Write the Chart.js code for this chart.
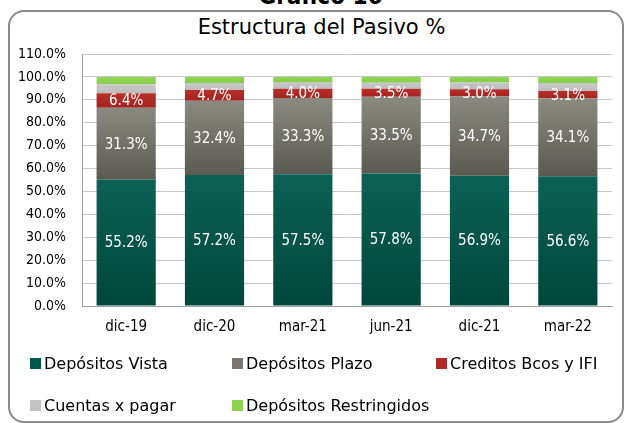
<!DOCTYPE html>
<html><head><meta charset="utf-8">
<script src="https://cdn.jsdelivr.net/npm/chart.js@4"></script>
<style>
html,body{margin:0;padding:0;width:625px;height:423px;overflow:hidden;background:#fff;}
body{position:relative;font-family:"DejaVu Sans Condensed","DejaVu Sans",sans-serif;}
#frame{position:absolute;left:8px;top:10px;width:612px;height:409px;border:2px solid #8a8a8a;border-radius:16px;}
#sup{position:absolute;left:0;width:625px;top:-16px;text-align:center;font-size:24px;font-weight:bold;line-height:24px;color:#000;padding-left:16px;box-sizing:border-box;}
#title{position:absolute;left:0;width:625px;top:15px;text-align:center;font-family:"DejaVu Sans",sans-serif;font-size:21px;line-height:24px;color:#000;padding-left:18px;box-sizing:border-box;}
#c{position:absolute;left:0;top:0;}
.lg{position:absolute;font-family:"DejaVu Sans",sans-serif;font-size:16px;line-height:18px;color:#000;white-space:nowrap;}
.lg i{display:inline-block;width:11px;height:11px;margin-right:3px;vertical-align:0px;}
</style></head>
<body>
<div id="frame"></div>
<div id="sup">Gráfico 16</div>
<div id="title">Estructura del Pasivo %</div>
<canvas id="c" width="625" height="423"></canvas>
<div id="legend"></div>
<script>
const categories = ["dic-19","dic-20","mar-21","jun-21","dic-21","mar-22"];
const depositosVista = [55.2,57.2,57.5,57.8,56.9,56.6];
const depositosPlazo = [31.3,32.4,33.3,33.5,34.7,34.1];
const creditosBcos = [6.4,4.7,4.0,3.5,3.0,3.1];
const cuentasPagar = [3.9,3.0,3.0,2.6,3.0,3.5];
const depositosRestr = [3.2,2.7,2.2,2.6,2.4,2.7];
const yTicks = [0,10,20,30,40,50,60,70,80,90,100,110];

const seriesNames = ["Depósitos Vista","Depósitos Plazo","Creditos Bcos y IFI","Cuentas x pagar","Depósitos Restringidos"];
const seriesData = [depositosVista,depositosPlazo,creditosBcos,cuentasPagar,depositosRestr];
const baseColors = ["#00584b","#76766e","#b02a25","#c2c2c2","#8fd24f"];
const gradStops = [["#0c6154","#00473b"],["#8a8a80","#5a5a52"],["#b8302a","#a5231f"],["#c8c8c8","#bcbcbc"],["#94d654","#88cc48"]];
const labeled = [true,true,true,false,false];

function bg(di){
  return function(ctx){
    if(ctx.type!=='data') return baseColors[di];
    const chart=ctx.chart, ys=chart.scales.y;
    if(!ys || !chart.chartArea) return baseColors[di];
    let start=0;
    for(let k=0;k<di;k++) start+=seriesData[k][ctx.dataIndex];
    const end=start+seriesData[di][ctx.dataIndex];
    const yTop=ys.getPixelForValue(end), yBot=ys.getPixelForValue(start);
    if(!isFinite(yTop)||!isFinite(yBot)||yTop===yBot) return baseColors[di];
    const g=chart.ctx.createLinearGradient(0,yTop,0,yBot);
    g.addColorStop(0,gradStops[di][0]);g.addColorStop(1,gradStops[di][1]);
    return g;
  };
}

const datasets = seriesNames.map((n,i)=>({
  label:n, data:seriesData[i], backgroundColor:bg(i), borderWidth:0,
  categoryPercentage:1, barPercentage:0.67
}));

const labelPlugin={
  id:'lbl',
  afterDatasetsDraw(chart){
    const c=chart.ctx;
    c.save();
    c.fillStyle='#ffffff';
    c.font='15px "DejaVu Sans Condensed","DejaVu Sans",sans-serif';
    c.textAlign='center';c.textBaseline='middle';
    chart.data.datasets.forEach((ds,di)=>{
      if(!labeled[di]) return;
      chart.getDatasetMeta(di).data.forEach((el,j)=>{
        const y=(el.y+el.base)/2;
        c.fillText(ds.data[j].toFixed(1)+'%',el.x,y+1);
      });
    });
    c.restore();
  }
};

new Chart(document.getElementById('c'),{
  type:'bar',
  data:{labels:categories,datasets:datasets},
  options:{
    responsive:false,animation:false,
    layout:{padding:{left:0,top:54,right:13,bottom:77}},
    plugins:{legend:{display:false},tooltip:{enabled:false}},
    scales:{
      x:{stacked:true,
        grid:{display:false,drawTicks:false},
        border:{color:'#a0a0a0',width:1},
        ticks:{color:'#000',font:{family:'"DejaVu Sans Condensed","DejaVu Sans",sans-serif',size:15},padding:12},
        afterFit(s){s.height=40;}
      },
      y:{stacked:true,min:0,max:110,
        afterBuildTicks(s){s.ticks=yTicks.map(v=>({value:v}));},
        grid:{color:'#c8c8c8',lineWidth:1,drawTicks:false},
        border:{color:'#a0a0a0',width:1},
        ticks:{color:'#000',padding:16,font:{family:'"DejaVu Sans Condensed","DejaVu Sans",sans-serif',size:14},
          callback:v=>Number(v).toFixed(1)+'%'},
        afterFit(s){s.width=82;}
      }
    }
  },
  plugins:[labelPlugin]
});

const legendPos=[[30,355],[232,355],[436,355],[30,397],[232,397]];
const lg=document.getElementById('legend');
seriesNames.forEach((n,i)=>{
  const d=document.createElement('div');d.className='lg';
  d.style.left=legendPos[i][0]+'px';d.style.top=legendPos[i][1]+'px';
  const sw=document.createElement('i');sw.style.background=baseColors[i];
  d.appendChild(sw);d.appendChild(document.createTextNode(n));
  lg.appendChild(d);
});
</script>
</body></html>
